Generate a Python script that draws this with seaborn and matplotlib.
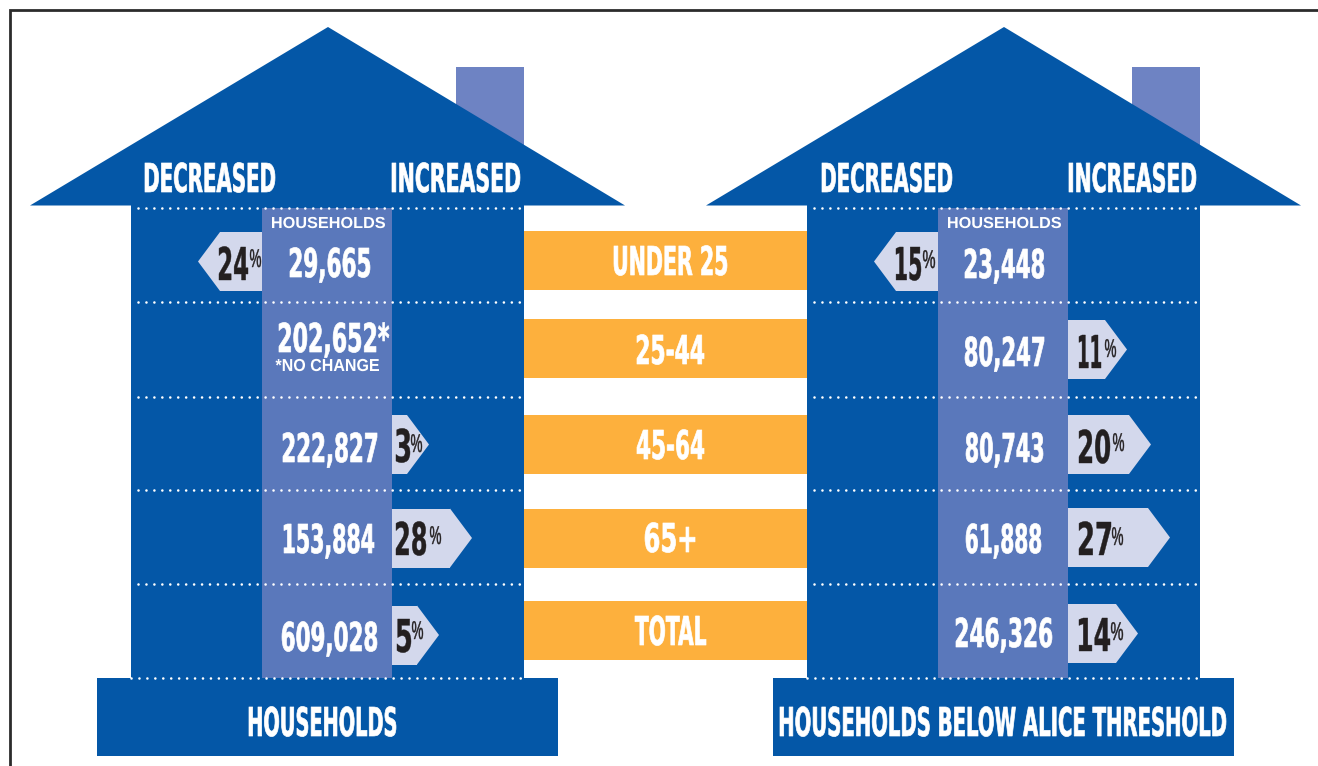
import matplotlib
matplotlib.use("Agg")
import matplotlib.pyplot as plt
import matplotlib.patheffects as pe
from matplotlib.transforms import Affine2D
import pandas as pd
import seaborn as sns

# ---------- data ----------
age_groups = ["UNDER 25", "25-44", "45-64", "65+", "TOTAL"]
households = [29665, 202652, 222827, 153884, 609028]
households_change = [-24, 0, 3, 28, 5]
alice_households = [23448, 80247, 80743, 61888, 246326]
alice_change = [-15, 11, 20, 27, 14]

# ---------- layout (reference pixels) ----------
BLUE, STRIP, CHIM, PALE, ORANGE, DARK = "#0457a7", "#5a78bb", "#6e83c3", "#d3d8ec", "#fdb03d", "#231f20"
DISPLAY = ["DejaVu Sans"]
band_rows = [260.5, 348.5, 444.5, 538.5, 630.5]
row_h = 59
arrow_rows_l = [261.5, None, 444.5, 538, 635]
arrow_rows_r = [261.5, 349.5, 444.5, 537.5, 633.5]
arrow_len_l = [64, 0, 37, 80, 47]
arrow_len_r = [64, 59, 83, 102, 70]
tip = 22
rules = [208, 302, 396.5, 490, 584, 678]
value_box_l = [(290, 370, 277), (279, 389, 352), (283, 377, 462), (284, 374, 553), (282, 377, 651)]
value_box_r = [(965, 1044, 278), (965, 1044, 366), (966, 1043, 462), (966, 1041, 553), (956, 1052, 647)]
num_box_l = [(219, 248, 280), None, (396, 410, 462), (396, 426, 555), (397, 411, 652)]
pct_box_l = [(250, 261, 267), None, (411, 422, 452), (430, 441, 544), (412, 423, 639)]
num_box_r = [(896, 921, 280), (1079, 1101, 368), (1079, 1110, 463), (1079, 1111, 555), (1079, 1110, 651)]
pct_box_r = [(923, 935, 268), (1105, 1116, 357), (1113, 1124, 451), (1112, 1123, 545), (1111, 1123, 640)]
band_box = [(614, 727, 275), (637, 704, 364), (637, 704, 459), (645, 695, 552), (635, 706, 645)]


class FitBox(pe.AbstractPathEffect):
    """Draw the text condensed: exact pixel span, stretched upward from its baseline."""

    def __init__(self, x0, x1, y_scale, stroke=0.0):
        super().__init__()
        self.x0, self.x1, self.y_scale, self.stroke = x0, x1, y_scale, stroke

    def draw_path(self, renderer, gc, tpath, affine, rgbFace=None):
        ext = affine.transform_path(tpath).get_extents()
        sx = (self.x1 - self.x0) / ext.width
        tr = (Affine2D().scale(1, self.y_scale) + affine
              + Affine2D().translate(-ext.x0, 0).scale(sx, 1).translate(self.x0, 0))
        gc0 = renderer.new_gc()
        gc0.copy_properties(gc)
        gc0.set_linewidth(self.stroke)
        if self.stroke:
            gc0.set_foreground(rgbFace)
        renderer.draw_path(gc0, tpath, tr, rgbFace)
        gc0.restore()


def fit_text(ax, s, box, cap, color="white", family=DISPLAY, weight="bold", stroke=0.0, capr=0.729):
    x0, x1, base = box
    full_size = cap / capr * 0.72
    t = ax.text((x0 + x1) / 2, base, s, ha="center", va="baseline", color=color,
                family=family, weight=weight, fontsize=full_size, zorder=10)
    # font size whose own width is the target span; height is restored by the effect
    natural = t.get_window_extent(fig.canvas.get_renderer()).width
    size = full_size * min(1.0, (x1 - x0) / natural)
    t.set_fontsize(size)
    t.set_path_effects([FitBox(x0, x1, full_size / size, stroke)])
    return t


sns.set_style("white")
fig = plt.figure(figsize=(13.18, 7.66), dpi=100, facecolor="white")
ax = fig.add_axes([0, 0, 1, 1])
ax.set_xlim(0, 1318)
ax.set_ylim(766, 0)


def bars(rows, lengths, left, height, color, zorder):
    """Horizontal bars through seaborn at native y positions."""
    frame = pd.DataFrame({"row": rows, "length": lengths})
    gaps = sorted(set(rows))
    native = min((b - a for a, b in zip(gaps, gaps[1:])), default=1)
    before = len(ax.patches)
    sns.barplot(data=frame, x="length", y="row", orient="y", native_scale=True, ax=ax,
                color=color, saturation=1, width=height / native, left=left,
                linewidth=0, zorder=zorder, errorbar=None)
    return ax.patches[before:]


def house(dx, values, changes, rows, lengths, value_box, num_box, pct_box, title, title_box):
    # roof, chimney, body, base
    ax.fill([456 + dx, 524 + dx, 524 + dx, 456 + dx], [67, 67, 150, 150], color=CHIM, lw=0, zorder=1)
    ax.fill([30 + dx, 328 + dx, 625 + dx], [205.5, 27, 205.5], color=BLUE, lw=0, zorder=2)
    ax.fill([131 + dx, 524 + dx, 524 + dx, 131 + dx], [205, 205, 678, 678], color=BLUE, lw=0, zorder=2)
    ax.fill([97 + dx, 558 + dx, 558 + dx, 97 + dx], [678, 678, 756, 756], color=BLUE, lw=0, zorder=2)
    ax.fill([262 + dx, 392 + dx, 392 + dx, 262 + dx], [208, 208, 678, 678], color=STRIP, lw=0, zorder=3)

    # arrows: a bar body from the strip edge plus a pointed tip
    for ch, r, ln in zip(changes, rows, lengths):
        if ch == 0:
            continue
        sign = 1 if ch > 0 else -1
        edge = (392 if ch > 0 else 262) + dx
        for p in bars([r], [sign * (ln - tip)], edge, row_h, PALE, 4):
            end = edge + sign * (ln - tip)
            ax.fill([end, end + sign * tip, end],
                    [p.get_y(), p.get_y() + p.get_height() / 2, p.get_y() + p.get_height()],
                    color=PALE, lw=0, zorder=4)

    # dotted rules
    for i, y in enumerate(rules):
        start = (131 if i == len(rules) - 1 else 138) + dx
        ax.plot([start, 524 + dx], [y, y], color="white", lw=1.9, zorder=6,
                linestyle=(0, (0.01, 3.0)), dash_capstyle="round")

    # headings
    nudge = 1 if dx else 0
    fit_text(ax, "DECREASED", (145 + dx + nudge, 275 + dx + nudge, 192), 29, stroke=0.5)
    fit_text(ax, "INCREASED", (392 + dx + nudge, 520 + dx, 192), 29, stroke=0.5)
    fit_text(ax, "HOUSEHOLDS", (272 + dx, 385 + dx, 228), 11, family=["Liberation Sans"], capr=0.69)
    fit_text(ax, title, title_box, 29, stroke=0.5)

    for v, ch, vb, nb, pb in zip(values, changes, value_box, num_box, pct_box):
        label = f"{v:,}" + ("*" if ch == 0 else "")
        fit_text(ax, label, vb, 29, stroke=0.5)
        if ch != 0:
            fit_text(ax, f"{abs(ch)}", nb, 33, color=DARK, stroke=0.3)
            fit_text(ax, "%", pb, 18, color=DARK, family=["Liberation Sans"], weight="normal",
                     capr=0.7, stroke=0.3)


# frame
ax.plot([9.5, 9.5, 1318], [766, 10, 10], color="#2b2b2b", lw=2.0, zorder=0, solid_joinstyle="miter")

house(0, households, households_change, arrow_rows_l, arrow_len_l,
      value_box_l, num_box_l, pct_box_l, "HOUSEHOLDS", (249, 396, 736))
house(676, alice_households, alice_change, arrow_rows_r, arrow_len_r,
      value_box_r, num_box_r, pct_box_r, "HOUSEHOLDS BELOW ALICE THRESHOLD", (780, 1226, 736))

fit_text(ax, "*NO CHANGE", (275.5, 379, 371), 12, family=["Liberation Sans"], capr=0.69)

# central age bands
bars(band_rows, [283] * len(band_rows), 524, row_h, ORANGE, 5)
for name, box in zip(age_groups, band_box):
    fit_text(ax, name, box, 29, stroke=0.5)

ax.set_xlim(0, 1318)
ax.set_ylim(766, 0)
ax.set_xlabel("")
ax.set_ylabel("")
ax.axis("off")
fig.savefig("out.png", dpi=100, facecolor="white")
